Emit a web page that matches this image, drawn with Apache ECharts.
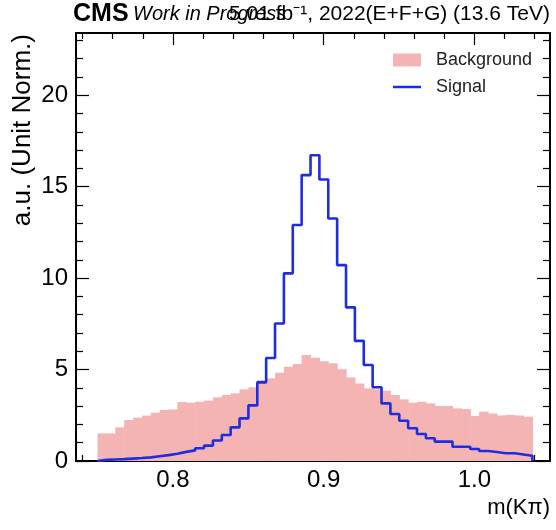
<!DOCTYPE html>
<html><head><meta charset="utf-8">
<script src="https://cdn.jsdelivr.net/npm/echarts@6/dist/echarts.min.js"></script>
<style>html,body{margin:0;padding:0;background:#fff}#c{width:556px;height:530px}</style>
</head><body><div id="c"></div>
<script>
// ---- data ----
const binStart = 0.75;
const binEnd = 1.0385;
const nBins = 49;
const background = [1.51,1.51,1.84,2.24,2.37,2.48,2.64,2.79,2.82,3.22,3.19,3.24,3.30,3.48,3.61,3.70,3.92,4.03,4.43,4.52,4.83,5.15,5.30,5.79,5.64,5.46,5.34,5.01,4.57,4.24,3.97,3.92,3.84,3.61,3.37,3.19,3.24,3.15,3.01,3.01,2.88,2.84,2.46,2.70,2.60,2.49,2.52,2.49,2.42];
const signal = [0.06,0.08,0.10,0.13,0.16,0.20,0.26,0.32,0.40,0.50,0.58,0.70,0.84,1.12,1.42,1.84,2.33,3.04,4.30,5.63,7.52,10.26,12.90,15.63,16.72,15.39,13.26,10.71,8.40,6.57,5.25,4.03,3.15,2.57,2.20,1.79,1.48,1.24,1.06,1.06,0.78,0.78,0.66,0.55,0.49,0.42,0.42,0.36,0.29];
const xMajorTicks = [0.8, 0.9, 1.0];
const xMinorTicks = [0.74,0.76,0.78,0.82,0.84,0.86,0.88,0.92,0.94,0.96,0.98,1.02,1.04];
const yMajorTicks = [0, 5, 10, 15, 20];
const yMinorTicks = [1,2,3,4,6,7,8,9,11,12,13,14,16,17,18,19,21,22,23];
const seriesNames = ['Background', 'Signal'];
const xTitle = 'm(Kπ)';
const yTitle = 'a.u. (Unit Norm.)';
const cmsText = 'CMS';
const wipText = 'Work in Progress';
const lumiText = '5.01 fb⁻¹, 2022(E+F+G) (13.6 TeV)';

// ---- build ----
const w = (binEnd - binStart) / nBins;
const edges = [];
for (let i = 0; i <= nBins; i++) edges.push(binStart + i * w);
const bgData = background.map((v, i) => [edges[i], edges[i + 1], v]);
const sigData = [[edges[0], 0]].concat(signal.map((v, i) => [edges[i], v])).concat([[edges[nBins], 0]]);

const FONT = "'Liberation Sans', Arial, Helvetica, sans-serif";
const XMIN = 0.7357, XMAX = 1.0502, YMIN = 0, YMAX = 23.4;
const bgColor = '#f5b4b4';
const sigColor = '#1f2de0';

function xAx(pos, major, showLine, showLabel) {
  return {
    type: 'value', min: XMIN, max: XMAX, position: pos, splitLine: {show: false},
    axisLine: {show: showLine, onZero: false, lineStyle: {color: '#000', width: 2}},
    axisTick: {show: true, inside: true, length: major ? 12 : 6, customValues: major ? xMajorTicks : xMinorTicks, lineStyle: {color: '#000', width: 1.2}},
    axisLabel: {show: showLabel, customValues: xMajorTicks, formatter: v => v.toFixed(1), fontSize: 24, color: '#000', margin: 7, fontFamily: FONT}
  };
}
function yAx(pos, major, showLine, showLabel) {
  return {
    type: 'value', min: YMIN, max: YMAX, position: pos, splitLine: {show: false},
    axisLine: {show: showLine, onZero: false, lineStyle: {color: '#000', width: 2}},
    axisTick: {show: true, inside: true, length: major ? 13 : 7, customValues: major ? yMajorTicks : yMinorTicks, lineStyle: {color: '#000', width: 1.2}},
    axisLabel: {show: showLabel, customValues: yMajorTicks, formatter: v => String(v), fontSize: 24, color: '#000', margin: 8, fontFamily: FONT}
  };
}

const chart = echarts.init(document.getElementById('c'), null, {renderer: 'canvas'});
chart.setOption({
  animation: false,
  backgroundColor: '#fff',
  grid: {left: 76, right: 6, top: 33, bottom: 69, containLabel: false},
  xAxis: [xAx('bottom', true, true, true), xAx('bottom', false, false, false), xAx('top', true, true, false), xAx('top', false, false, false)],
  yAxis: [yAx('left', true, true, true), yAx('left', false, false, false), yAx('right', true, true, false), yAx('right', false, false, false)],
  legend: [
    {data: [seriesNames[0]], left: 388, top: 46, orient: 'vertical', itemWidth: 28, itemHeight: 13, icon: 'rect',
     textStyle: {fontSize: 18, color: '#222', fontFamily: FONT, padding: [0, 0, 0, 10]}},
    {data: [seriesNames[1]], left: 388, top: 73, orient: 'vertical', itemWidth: 28, itemHeight: 2.5, icon: 'rect',
     textStyle: {fontSize: 18, color: '#222', fontFamily: FONT, padding: [0, 0, 0, 10]}}
  ],
  series: [
    {
      name: seriesNames[0], type: 'custom', xAxisIndex: 0, yAxisIndex: 0,
      itemStyle: {color: bgColor},
      encode: {x: [0, 1], y: 2},
      data: bgData,
      renderItem: function (params, api) {
        const p0 = api.coord([api.value(0), api.value(2)]);
        const p1 = api.coord([api.value(1), 0]);
        return {type: 'rect', shape: {x: p0[0], y: p0[1], width: p1[0] - p0[0] + 0.6, height: p1[1] - p0[1]}, style: {fill: bgColor}};
      },
      z: 1
    },
    {
      name: seriesNames[1], type: 'line', step: 'end', xAxisIndex: 0, yAxisIndex: 0,
      data: sigData, showSymbol: false, symbol: 'none', color: sigColor,
      lineStyle: {color: sigColor, width: 2.6}, z: 3
    }
  ],
  graphic: [
    {type: 'text', left: 73, top: 2, style: {text: cmsText, font: "bold 25px " + FONT, fill: '#000'}},
    {type: 'text', left: 133, top: 4, style: {text: wipText, font: "italic 20px " + FONT, fill: '#000'}},
    {type: 'text', right: 6, top: 4, style: {text: lumiText, font: "21px " + FONT, fill: '#000'}},
    {type: 'text', x: 36, y: 34, rotation: Math.PI / 2, style: {text: yTitle, font: "26px " + FONT, fill: '#000', align: 'right', verticalAlign: 'bottom'}},
    {type: 'text', right: 6, top: 497, style: {text: xTitle, font: "22px " + FONT, fill: '#000'}}
  ]
});
</script>
</body></html>
